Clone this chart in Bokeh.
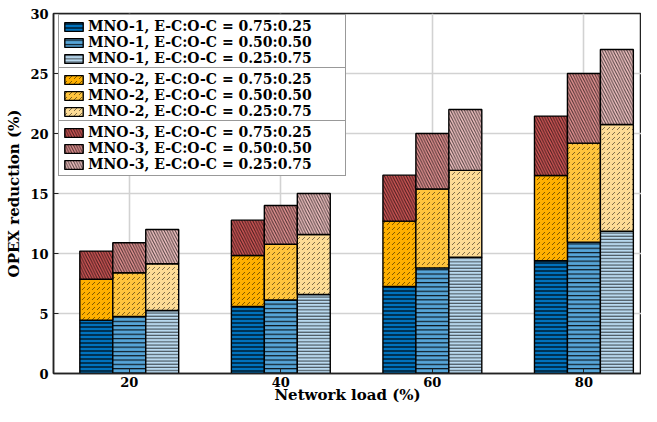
from bokeh.plotting import figure
from bokeh.models import Legend, LegendItem, FixedTicker, Range1d
from bokeh.embed import file_html
from bokeh.resources import INLINE

# ---- data ----
loads = [20, 40, 60, 80]
ratios = ["0.75:0.25", "0.50:0.50", "0.25:0.75"]
# cumulative stack tops per ratio (MNO-1, then +MNO-2, then +MNO-3)
mno1_top = {
    "0.75:0.25": [4.45, 5.58, 7.25, 9.40],
    "0.50:0.50": [4.75, 6.13, 8.80, 10.95],
    "0.25:0.75": [5.25, 6.58, 9.69, 11.85],
}
mno2_top = {
    "0.75:0.25": [7.85, 9.83, 12.70, 16.50],
    "0.50:0.50": [8.40, 10.77, 15.38, 19.20],
    "0.25:0.75": [9.15, 11.58, 16.93, 20.75],
}
mno3_top = {
    "0.75:0.25": [10.20, 12.78, 16.53, 21.45],
    "0.50:0.50": [10.90, 14.00, 20.00, 25.00],
    "0.25:0.75": [12.00, 15.00, 22.00, 27.00],
}
x_ticks = [20, 40, 60, 80]
y_ticks = [0, 5, 10, 15, 20, 25, 30]

# ---- styles ----
FONT = "DejaVu Serif"
colors = {
    1: ["#0072BD", "#56A5D8", "#B9D9EF"],
    2: ["#FFB000", "#FFC43D", "#FDDC96"],
    3: ["#CC5555", "#E09090", "#EFC0C0"],
}
hatch = {
    1: [("-", 4.0, 1.5, 0.75), ("-", 4.3, 1.2, 0.85), ("-", 3.2, 1.0, 0.7)],
    2: [(",", 5.0, 1.0, 0.5), (",", 5.0, 1.0, 0.5), (",", 5.0, 1.0, 0.5)],
    3: [("\\", 5.5, 1.0, 0.68), ("\\", 5.5, 1.0, 0.68), ("\\", 5.5, 1.0, 0.68)],
}
bar_w = 4.35
offsets = [-bar_w, 0.0, bar_w]

p = figure(width=641, height=406, output_backend="svg", toolbar_location=None,
           x_range=Range1d(10, 87.6), y_range=Range1d(0, 30),
           min_border_left=53, min_border_right=0, min_border_top=13, min_border_bottom=26)

tops = {1: mno1_top, 2: mno2_top, 3: mno3_top}
items = {1: [], 2: [], 3: []}
for m in (1, 2, 3):
    for k, r in enumerate(ratios):
        xs = [v + offsets[k] for v in loads]
        top = tops[m][r]
        bottom = [0.0] * len(loads) if m == 1 else tops[m - 1][r]
        pat, sc, wt, al = hatch[m][k]
        rend = p.vbar(x=xs, width=bar_w, top=top, bottom=bottom,
                      fill_color=colors[m][k], line_color="black", line_width=1.4,
                      hatch_pattern=pat, hatch_scale=sc, hatch_weight=wt,
                      hatch_color="black", hatch_alpha=al)
        items[m].append(LegendItem(label=f"MNO-{m}, E-C:O-C = {r}", renderers=[rend]))

# axes / grid
p.xaxis.ticker = FixedTicker(ticks=x_ticks)
p.yaxis.ticker = FixedTicker(ticks=y_ticks)
for ax in (p.xaxis[0], p.yaxis[0]):
    ax.major_tick_in = 5
    ax.major_tick_out = 0
    ax.minor_tick_line_color = None
    ax.axis_line_color = "#222222"
    ax.axis_line_width = 1.5
    ax.major_tick_line_color = "#222222"
    ax.major_label_text_font = FONT
    ax.major_label_text_font_style = "bold"
    ax.major_label_text_font_size = "13px"
    ax.major_label_text_color = "black"
    ax.axis_label_text_font = FONT
    ax.axis_label_text_font_style = "bold"
    ax.axis_label_text_color = "black"
    ax.axis_label_text_font_size = "15px"
p.xaxis.axis_label = "Network load (%)"
p.yaxis.axis_label = "OPEX reduction (%)"
p.xaxis.major_label_standoff = 3
p.xaxis.axis_label_standoff = -4
p.yaxis.major_label_standoff = 5
p.yaxis.axis_label_standoff = 4

p.xgrid.ticker = FixedTicker(ticks=x_ticks)
p.ygrid.ticker = FixedTicker(ticks=y_ticks)
p.grid.grid_line_color = "#d2d2d2"
p.grid.grid_line_width = 1.6
p.outline_line_color = "#222222"
p.outline_line_width = 1.5
p.outline_line_alpha = 1.0

locs = {1: (5, 303), 2: (5, 250), 3: (5, 197)}
for m in (1, 2, 3):
    lg = Legend(items=items[m], location=locs[m], orientation="vertical",
                label_text_font=FONT, label_text_font_style="bold",
                label_text_font_size="14px", label_text_color="black",
                glyph_width=23, glyph_height=11, label_height=16, label_standoff=3,
                label_width=254,
                spacing=0, padding=3, margin=0,
                border_line_color="#333333", border_line_width=1.5,
                background_fill_color="white", background_fill_alpha=1.0)
    p.add_layout(lg, "center")

open("out.html", "w").write(file_html(p, INLINE))
